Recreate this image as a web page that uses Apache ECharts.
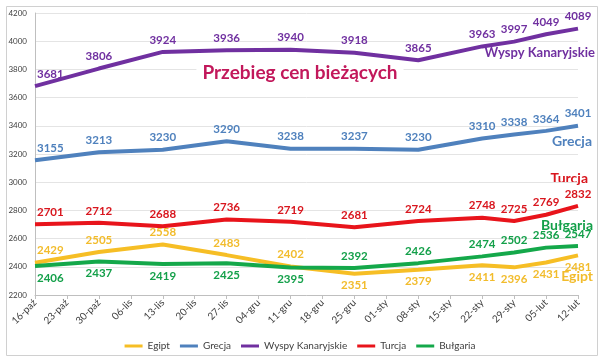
<!DOCTYPE html>
<html><head><meta charset="utf-8">
<script src="https://cdn.jsdelivr.net/npm/echarts@6/dist/echarts.min.js"></script>
<style>html,body{margin:0;padding:0;background:#fff}#c{width:600px;height:358px}</style>
</head><body><div id="c"></div>
<script>
const categories = ['16-paź','23-paź','30-paź','06-lis','13-lis','20-lis','27-lis','04-gru','11-gru','18-gru','25-gru','01-sty','08-sty','15-sty','22-sty','29-sty','05-lut','12-lut'];
const egipt    = [2429,null,2505,null,2558,null,2483,null,2402,null,2351,null,2379,null,2411,2396,2431,2481];
const grecja   = [3155,null,3213,null,3230,null,3290,null,3238,null,3237,null,3230,null,3310,3338,3364,3401];
const wyspy    = [3681,null,3806,null,3924,null,3936,null,3940,null,3918,null,3865,null,3963,3997,4049,4089];
const turcja   = [2701,null,2712,null,2688,null,2736,null,2719,null,2681,null,2724,null,2748,2725,2769,2832];
const bulgaria = [2406,null,2437,null,2419,null,2425,null,2395,null,2392,null,2426,null,2474,2502,2536,2547];
const yTicks = [2200,2400,2600,2800,3000,3200,3400,3600,3800,4000,4200];

const FONT = 'Lato';
function mk(name, data, color, labelColor, posFn) {
  return {
    name, type: 'line',
    data: data.map((v, i) => v == null ? '-' : {
      value: v,
      label: i === 0
        ? { position: posFn ? posFn(i) : 'top', align: 'left', padding: [0, 0, 0, 2] }
        : { position: posFn ? posFn(i) : 'top' }
    }),
    connectNulls: true, showSymbol: true, showAllSymbol: true, symbol: 'circle', symbolSize: 0,
    lineStyle: { color, width: 4 }, itemStyle: { color },
    label: { show: true, color: labelColor, fontFamily: FONT, fontSize: 11.5, fontWeight: 'bold', distance: 6 },
    emphasis: { disabled: true },
    labelLayout: { hideOverlap: false }
  };
}
const chart = echarts.init(document.getElementById('c'), null, { renderer: 'canvas' });
chart.setOption({
  animation: false,
  backgroundColor: '#fff',
  grid: { left: 35, right: 22, top: 13, bottom: 63 },
  xAxis: {
    type: 'category', data: categories, boundaryGap: false,
    axisLine: { lineStyle: { color: '#bfbfbf' } },
    axisTick: { show: true, alignWithLabel: true, lineStyle: { color: '#bfbfbf' }, length: 4 },
    axisLabel: { rotate: 45, fontFamily: FONT, fontSize: 10, color: '#404040', interval: 0, margin: 6 },
    splitLine: { show: false }
  },
  yAxis: {
    type: 'value', min: yTicks[0], max: yTicks[yTicks.length - 1], interval: 200,
    axisLine: { show: true, lineStyle: { color: '#bfbfbf' } },
    axisTick: { show: false },
    axisLabel: { fontFamily: FONT, fontSize: 8, color: '#404040', margin: 8, formatter: v => String(v) },
    splitLine: { lineStyle: { color: '#e4e4e4', width: 1 } }
  },
  legend: {
    bottom: 2, left: 'center', itemWidth: 18, itemHeight: 3, itemGap: 10,
    icon: 'rect',
    textStyle: { fontFamily: FONT, fontSize: 10, color: '#404040' },
    data: ['Egipt','Grecja','Wyspy Kanaryjskie','Turcja','Bułgaria']
  },
  series: [
    mk('Egipt', egipt, '#F6BE25', '#F2BC2C', i => i <= 8 ? 'top' : 'bottom'),
    mk('Grecja', grecja, '#4F81BD', '#4F81BD'),
    mk('Wyspy Kanaryjskie', wyspy, '#7030A0', '#7030A0'),
    mk('Turcja', turcja, '#E8141B', '#D9161E'),
    mk('Bułgaria', bulgaria, '#14A84A', '#14A04A', i => i <= 8 ? 'bottom' : 'top')
  ],
  graphic: [
    { type: 'rect', left: 4, top: 4, shape: { width: 591, height: 349 }, style: { fill: 'none', stroke: '#d0d0d0', lineWidth: 1 }, silent: true },
    { type: 'text', left: 'center', top: 61, z: 10, style: { text: 'Przebieg cen bieżących', fill: '#C2185B', font: 'bold 19px Lato', backgroundColor: '#fff', padding: [2, 6] } },
    { type: 'text', right: 5, top: 46, style: { text: 'Wyspy Kanaryjskie', fill: '#7030A0', font: 'bold 13px Lato' } },
    { type: 'text', right: 8, top: 134, style: { text: 'Grecja', fill: '#4F81BD', font: 'bold 14px Lato' } },
    { type: 'text', right: 12, top: 171, style: { text: 'Turcja', fill: '#D9161E', font: 'bold 14px Lato' } },
    { type: 'text', right: 7, top: 218, style: { text: 'Bułgaria', fill: '#14A04A', font: 'bold 14px Lato' } },
    { type: 'text', right: 7, top: 269, style: { text: 'Egipt', fill: '#F2BC2C', font: 'bold 14px Lato' } }
  ]
});
</script></body></html>
